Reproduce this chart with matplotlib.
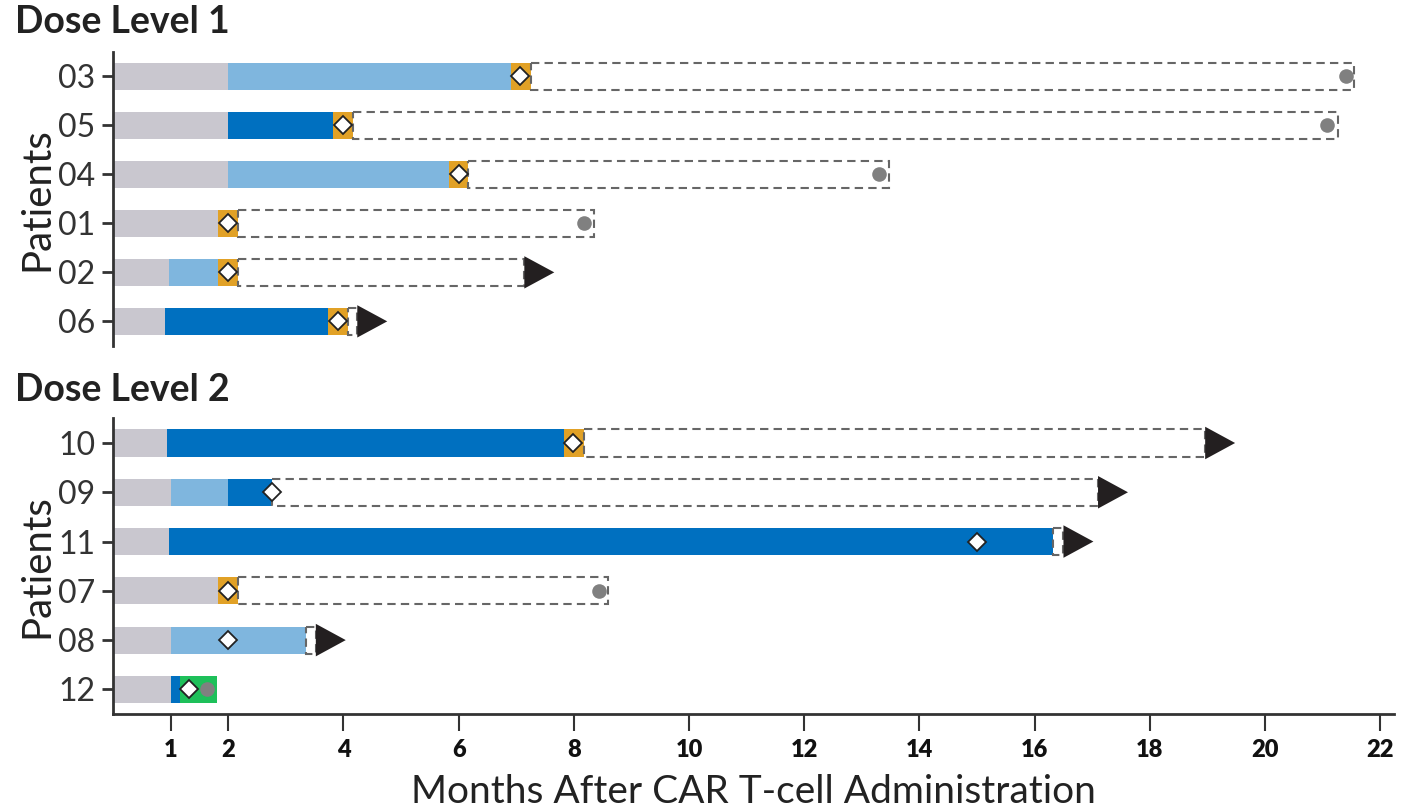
import matplotlib
matplotlib.use("Agg")
import matplotlib.pyplot as plt
from matplotlib.patches import Rectangle, Polygon

plt.rcParams["font.family"] = ["Lato", "DejaVu Sans"]

COLORS = {
    "pre": "#C9C7CF",
    "light": "#7FB6DE",
    "dark": "#0070C0",
    "orange": "#E1A126",
    "green": "#1EC05A",
}

# Dose level 1 (top to bottom)
dl1_patients = ["03", "05", "04", "01", "02", "06"]
dl1_segments = [
    [(0, 2.0, "pre"), (2.0, 6.9, "light"), (6.9, 7.25, "orange")],
    [(0, 2.0, "pre"), (2.0, 3.82, "dark"), (3.82, 4.17, "orange")],
    [(0, 2.0, "pre"), (2.0, 5.83, "light"), (5.83, 6.16, "orange")],
    [(0, 1.82, "pre"), (1.82, 2.17, "orange")],
    [(0, 0.97, "pre"), (0.97, 1.82, "light"), (1.82, 2.17, "orange")],
    [(0, 0.9, "pre"), (0.9, 3.73, "dark"), (3.73, 4.08, "orange")],
]
dl1_followup_end = [21.55, 21.27, 13.47, 8.35, 7.14, 4.24]
dl1_outcome = ["death", "death", "death", "death", "ongoing", "ongoing"]
dl1_diamond = [7.07, 4.0, 6.0, 2.0, 2.0, 3.9]
dl1_death = [21.4, 21.08, 13.3, 8.18, None, None]

# Dose level 2 (top to bottom)
dl2_patients = ["10", "09", "11", "07", "08", "12"]
dl2_segments = [
    [(0, 0.94, "pre"), (0.94, 7.83, "dark"), (7.83, 8.18, "orange")],
    [(0, 1.0, "pre"), (1.0, 2.0, "light"), (2.0, 2.76, "dark")],
    [(0, 0.97, "pre"), (0.97, 16.32, "dark")],
    [(0, 1.82, "pre"), (1.82, 2.17, "orange")],
    [(0, 1.0, "pre"), (1.0, 3.35, "light")],
    [(0, 1.0, "pre"), (1.0, 1.16, "dark"), (1.16, 1.8, "green")],
]
dl2_followup_end = [18.96, 17.1, 16.5, 8.6, 3.52, None]
dl2_outcome = ["ongoing", "ongoing", "ongoing", "death", "ongoing", None]
dl2_diamond = [7.99, 2.76, 15.0, 2.0, 2.0, 1.32]
dl2_death = [None, None, None, 8.44, None, 1.63]

x_ticks = [1, 2, 4, 6, 8, 10, 12, 14, 16, 18, 20, 22]

BAR_H = 0.55
ARROW_W = 0.52
ARROW_H = 0.66


def draw_panel(ax, patients, segments, fu_end, outcome, diamonds, deaths):
    for i, segs in enumerate(segments):
        for start, end, kind in segs:
            ax.barh(i, end - start, left=start, height=BAR_H,
                    color=COLORS[kind], linewidth=0, zorder=2)
        bar_end = segs[-1][1]
        if fu_end[i] is not None:
            box = Rectangle((bar_end, i - BAR_H / 2), fu_end[i] - bar_end, BAR_H,
                            fill=False, edgecolor="#666666", linewidth=1.5,
                            linestyle=(0, (4, 2.5)), zorder=3)
            ax.add_patch(box)
            if outcome[i] == "ongoing":
                tri = Polygon([(fu_end[i], i - ARROW_H / 2),
                               (fu_end[i], i + ARROW_H / 2),
                               (fu_end[i] + ARROW_W, i)],
                              closed=True, facecolor="#231F20",
                              edgecolor="none", zorder=4)
                ax.add_patch(tri)
        if deaths[i] is not None:
            ax.plot(deaths[i], i, "o", ms=10.5, color="#808080",
                    mec="none", zorder=5)
        ax.plot(diamonds[i], i, "D", ms=9, mfc="white", mec="#222222",
                mew=1.3, zorder=6)

    ax.set_xlim(0, 22.24)
    ax.set_ylim(len(patients) - 0.5, -0.5)
    ax.set_yticks(range(len(patients)))
    ax.set_yticklabels(patients, fontsize=23, color="#333333")
    ax.tick_params(axis="y", length=8, width=2, color="#333333", pad=5)
    ax.set_ylabel("Patients", fontsize=29, color="#222222", labelpad=2)
    for side in ("top", "right"):
        ax.spines[side].set_visible(False)
    ax.spines["left"].set_linewidth(2)
    ax.spines["left"].set_color("#333333")


fig = plt.figure(figsize=(14.24, 8.1), dpi=100)
ax1 = fig.add_axes([0.0794, 0.573, 0.8996, 0.363])
ax2 = fig.add_axes([0.0794, 0.1185, 0.8996, 0.365])

draw_panel(ax1, dl1_patients, dl1_segments, dl1_followup_end, dl1_outcome,
           dl1_diamond, dl1_death)
draw_panel(ax2, dl2_patients, dl2_segments, dl2_followup_end, dl2_outcome,
           dl2_diamond, dl2_death)

ax1.spines["bottom"].set_visible(False)
ax1.set_xticks([])

ax2.spines["bottom"].set_linewidth(2)
ax2.spines["bottom"].set_color("#333333")
ax2.set_xticks(x_ticks)
ax2.set_xticklabels([str(t) for t in x_ticks], fontsize=17, fontweight="heavy",
                    color="#111111")
ax2.tick_params(axis="x", length=12, width=1.5, color="#333333", pad=6)
ax2.set_xlabel("Months After CAR T-cell Administration", fontsize=28,
               color="#222222", labelpad=9)

fig.text(0.0105, 0.973, "Dose Level 1", fontsize=27, fontweight="bold",
         color="#222222", va="center", ha="left")
fig.text(0.0105, 0.519, "Dose Level 2", fontsize=27, fontweight="bold",
         color="#222222", va="center", ha="left")

fig.savefig("out.png", dpi=100)
